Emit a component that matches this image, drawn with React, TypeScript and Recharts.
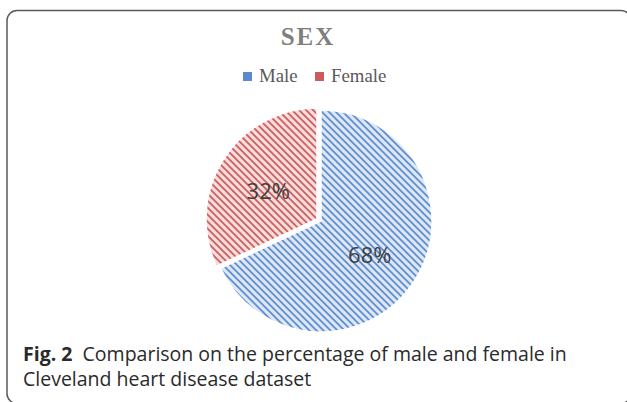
import React from 'react';
import { PieChart, Pie, Cell } from 'recharts';

const categories = ['Male', 'Female'];
const shares = [68, 32];
const hatchIds = ['hatchBlue', 'hatchRed'];
const swatchColors = ['#5a8ad0', '#cc5b5b'];

const data = categories.map((name, i) => ({ name, value: shares[i] }));

const W = 627;
const H = 402;

const makeLabel = (show: number) => (props: any) => {
  const { cx, cy, midAngle, outerRadius, index, value } = props;
  if (index !== show) return null;
  const RAD = Math.PI / 180;
  const r = outerRadius * 0.52;
  const x = cx + r * Math.cos(-midAngle * RAD);
  const y = cy + r * Math.sin(-midAngle * RAD);
  return (
    <text
      x={x}
      y={y + 2}
      textAnchor="middle"
      dominantBaseline="central"
      fontFamily="'Open Sans', sans-serif"
      fontSize={22}
      fill="#404040"
    >
      {`${value}%`}
    </text>
  );
};

export default function App() {
  return (
    <div
      style={{
        position: 'absolute',
        left: 0,
        top: 0,
        width: W,
        height: H,
        overflow: 'hidden',
        background: '#fff',
      }}
    >
      {/* frame, title, legend and hatch patterns */}
      <svg width={W} height={H} style={{ position: 'absolute', left: 0, top: 0 }}>
        <defs>
          <pattern id={hatchIds[0]} patternUnits="userSpaceOnUse" width={7} height={7}>
            <rect width={7} height={7} fill="#dde7f5" />
            <path d="M0,0 L7,7 M6,-1 L8,1 M-1,6 L1,8" stroke="#5f8fd2" strokeWidth={1.8} />
          </pattern>
          <pattern id={hatchIds[1]} patternUnits="userSpaceOnUse" width={7} height={7}>
            <rect width={7} height={7} fill="#f7dcdc" />
            <path d="M0,0 L7,7 M6,-1 L8,1 M-1,6 L1,8" stroke="#cf5f5f" strokeWidth={1.8} />
          </pattern>
        </defs>
        <rect
          x={7}
          y={10.5}
          width={624}
          height={393}
          rx={10}
          fill="none"
          stroke="#5a5a5a"
          strokeWidth={1.5}
        />
        <text
          x={308}
          y={45}
          textAnchor="middle"
          fontFamily="'Liberation Serif', serif"
          fontWeight="bold"
          fontSize={25}
          letterSpacing={2}
          fill="#7f7f7f"
        >
          SEX
        </text>
        {categories.map((c, i) => {
          const sx = i === 0 ? 243 : 315;
          return (
            <g key={c}>
              <rect x={sx} y={72} width={9} height={9} fill={swatchColors[i]} />
              <text
                x={sx + 16}
                y={82}
                fontFamily="'Liberation Serif', serif"
                fontSize={18.8}
                fill="#595959"
              >
                {c}
              </text>
            </g>
          );
        })}
      </svg>

      <div style={{ position: 'absolute', left: 0, top: 0 }}>
        <PieChart width={W} height={H} margin={{ top: 0, right: 0, bottom: 0, left: 0 }}>
          <Pie
            data={data}
            dataKey="value"
            cx={321}
            cy={221}
            outerRadius={111}
            startAngle={90}
            endAngle={-270}
            labelLine={false}
            label={makeLabel(0)}
            isAnimationActive={false}
          >
            {data.map((d, i) => (
              <Cell
                key={d.name}
                fill={i === 0 ? `url(#${hatchIds[0]})` : 'none'}
                stroke={i === 0 ? '#fff' : 'none'}
                strokeWidth={1.5}
              />
            ))}
          </Pie>
          <Pie
            data={data}
            dataKey="value"
            cx={317}
            cy={219}
            outerRadius={111}
            startAngle={90}
            endAngle={-270}
            labelLine={false}
            label={makeLabel(1)}
            isAnimationActive={false}
          >
            {data.map((d, i) => (
              <Cell
                key={d.name}
                fill={i === 1 ? `url(#${hatchIds[1]})` : 'none'}
                stroke={i === 1 ? '#fff' : 'none'}
                strokeWidth={1.5}
              />
            ))}
          </Pie>
        </PieChart>
      </div>

      {/* caption */}
      <div
        style={{
          position: 'absolute',
          left: 23,
          top: 341,
          fontFamily: "'Open Sans', sans-serif",
          fontSize: 19.5,
          lineHeight: '25px',
          color: '#2a2a2a',
          whiteSpace: 'nowrap',
        }}
      >
        <b>Fig. 2</b>&nbsp; Comparison on the percentage of male and female in
        <br />
        Cleveland heart disease dataset
      </div>
    </div>
  );
}
